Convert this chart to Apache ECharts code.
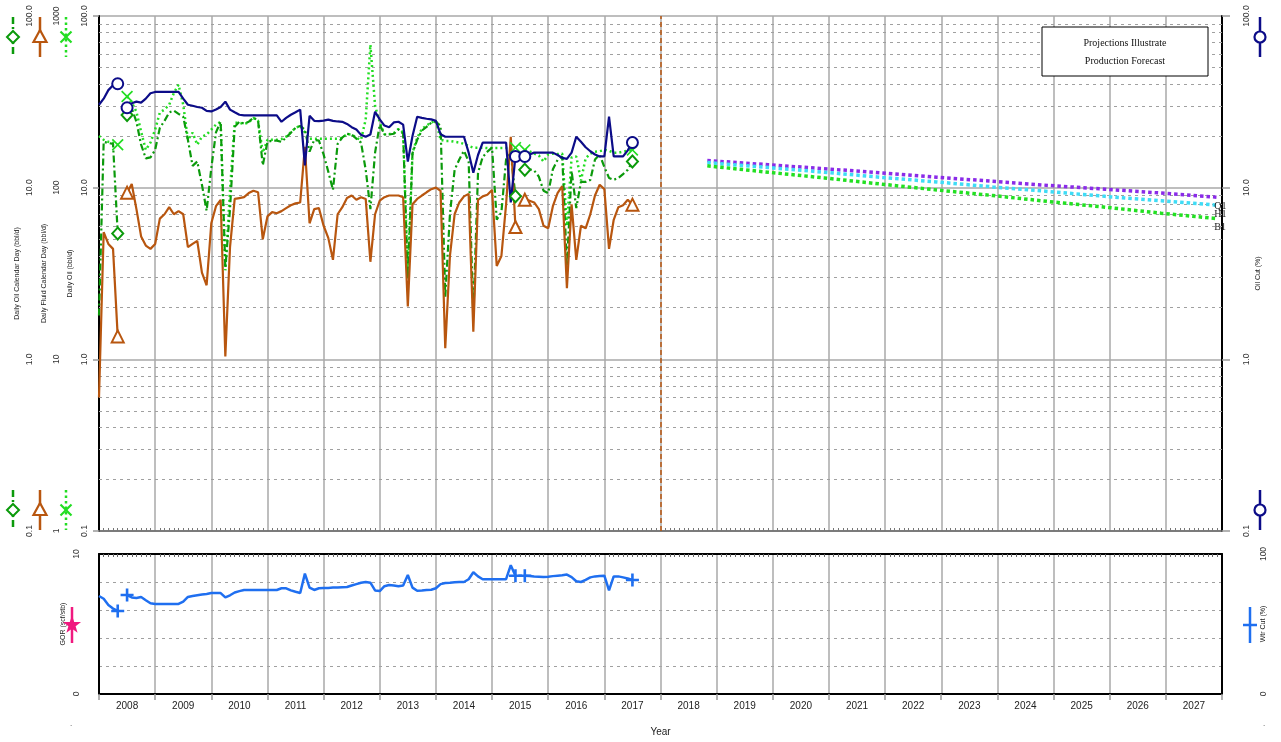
<!DOCTYPE html>
<html>
<head>
<meta charset="utf-8">
<title>Production plot</title>
<script src="https://cdn.jsdelivr.net/npm/echarts@6/dist/echarts.min.js"></script>
<style>
  html, body { margin: 0; padding: 0; background: #fff; }
  #chart { width: 1281px; height: 742px; }
</style>
</head>
<body>
<div id="chart"></div>
<script>
// monthly history, Jan 2008 .. Jul 2017
const months = [
  '2008-01','2008-02','2008-03','2008-04','2008-05','2008-06','2008-07','2008-08','2008-09','2008-10','2008-11','2008-12',
  '2009-01','2009-02','2009-03','2009-04','2009-05','2009-06','2009-07','2009-08','2009-09','2009-10','2009-11','2009-12',
  '2010-01','2010-02','2010-03','2010-04','2010-05','2010-06','2010-07','2010-08','2010-09','2010-10','2010-11','2010-12',
  '2011-01','2011-02','2011-03','2011-04','2011-05','2011-06','2011-07','2011-08','2011-09','2011-10','2011-11','2011-12',
  '2012-01','2012-02','2012-03','2012-04','2012-05','2012-06','2012-07','2012-08','2012-09','2012-10','2012-11','2012-12',
  '2013-01','2013-02','2013-03','2013-04','2013-05','2013-06','2013-07','2013-08','2013-09','2013-10','2013-11','2013-12',
  '2014-01','2014-02','2014-03','2014-04','2014-05','2014-06','2014-07','2014-08','2014-09','2014-10','2014-11','2014-12',
  '2015-01','2015-02','2015-03','2015-04','2015-05','2015-06','2015-07','2015-08','2015-09','2015-10','2015-11','2015-12',
  '2016-01','2016-02','2016-03','2016-04','2016-05','2016-06','2016-07','2016-08','2016-09','2016-10','2016-11','2016-12',
  '2017-01','2017-02','2017-03','2017-04','2017-05','2017-06','2017-07'
];

// Oil Cut (%)
const oilCut = [
  30.4, 33, 37, 39.5, 40.3, null, 29.2, 31, 31.7, 31.3, 33, 35.5,
  36.1, 36.1, 36.1, 36.1, 36.1, 36.1, 33, 30.4, 30, 29.5, 29.2, 28,
  27.8, 28.5, 29.5, 31.7, 28.5, 27.5, 26.6, 26.4, 26.4, 26.4, 26.4, 26.4,
  26.4, 26.4, 26.4, 24.2, 25.5, 26.6, 27.5, 28.5, 13.5, 26.2, 24.5, 24.4,
  24.6, 24.9, 24.5, 24.3, 24.2, 23.5, 22.5, 21.8, 20.3, 19.8, 20.4, 27.7,
  25, 23, 22.5, 24, 24.2, 23.3, 14.2, 20, 25.9, 25.5, 25.2, 25,
  24.5, 20.5, 19.8, 19.8, 19.8, 19.8, 19.8, 16, 12.2, 15.5, 18.3, 18.3,
  18.3, 18.3, 18.3, 18.3, 8.2, 15.2, null, 15.2, 15.6, 16, 16, 16,
  16, 16, 15.5, 14.9, 14.7, 16, 19.8, 18.5, 17.2, 16.3, 15.6, 15.2,
  15.2, 25.9, 15.2, 15.2, 15.2, 16.5, 18.3
];

// Daily Fluid Calendar Day (bbl/d)
const fluidCal = [
  6, 55, 47, 44, 13.6, null, 93.5, 105, 75, 52, 46, 44,
  47, 66, 70, 77, 70, 73, 70, 45, 47, 49, 32, 27,
  62, 78, 85, 10.4, 45, 86, 87, 88, 93, 96, 94, 50,
  68, 72, 71, 73, 76, 79, 81, 82, 173, 62, 75, 76,
  60, 51, 38, 70, 77, 87, 90, 85, 88, 86, 37, 70,
  84, 88, 90, 90, 90, 88, 20.3, 80, 86, 90, 94, 98,
  100, 96, 11.6, 40, 70, 82, 89, 92, 14.5, 85, 89, 91,
  97, 35, 40, 80, 198, 59, null, 85, 84, 82, 75, 60,
  58, 78, 93, 102, 26, 80, 38, 60, 58, 70, 90, 104,
  98, 44, 65, 77, 79, 85, 79.6
];

// Daily Oil Calendar Day (bbl/d)
const oilCal = [
  1.8, 18.5, 18.2, 18, 5.4, null, 26.5, 29, 24.2, 17.8, 14.8, 15,
  16.6, 22.3, 24.5, 27.4, 28.1, 26.9, 25.9, 19, 13.4, 14.2, 10.4, 7.35,
  13, 21, 24.2, 3.4, 7.5, 22.6, 24.2, 23.6, 24.2, 25.6, 24.5, 13.5,
  18.5, 18.8, 18.8, 18.5, 19.6, 20.9, 22.3, 22.9, 21.8, 16.2, 19, 18.8,
  15.6, 12.4, 9.7, 18, 19.6, 20.6, 20.4, 19.3, 18.3, 12.7, 7.5, 16,
  23.3, 20.4, 20.4, 20.6, 21.8, 20.6, 2.9, 15.9, 19, 21.5, 22.6, 23.9,
  24.2, 22.9, 2.3, 7, 12.7, 14.6, 16.4, 14.2, 1.8, 12.2, 15.1, 16.2,
  17.1, 6.5, 7.2, 14.6, 16, 8.9, null, 12.7, 12.8, 12.6, 11.6, 9.6,
  9.3, 12.8, 14.5, 15.2, 3.5, 12.5, 7.6, 10.8, 10.8, 11.1, 14.6, 15.6,
  13.2, 11.4, 11.1, 11.4, 12, 12.7, 14.2
];

// Daily Oil (bbl/d)
const oilDaily = [
  20, 19, 18.5, 18.2, 17.8, null, 34, 31.3, 27.7, 21.2, 16.6, 18.3,
  21.8, 27.4, 28.5, 30.4, 35.6, 39.8, 30.4, 19, 20.9, 17.8, 19.8, 20.4,
  21.8, 23.3, 24.2, 3.3, 9.7, 23.9, 23.9, 23.5, 24, 25.5, 24.5, 16,
  19, 19, 19, 19.2, 19.8, 21, 22.3, 22.9, 21, 19.3, 19.3, 19.3,
  19.3, 19.3, 19.3, 19.3, 19.5, 20.5, 20.4, 19.5, 19, 25, 68, 30,
  24, 20.5, 20.5, 20.8, 22, 21, 3.1, 16, 19.5, 22, 23, 24,
  24.5, 19, 18.7, 18.7, 18.5, 18.3, 18, 17.5, 17.1, 17.1, 17.1, 17,
  17, 17, 17, 17, 17, 17.1, null, 16.6, 16.3, 15.8, 15.4, 14.2,
  15.6, 15.8, 15.7, 15.8, 6, 15, 15.2, 11, 14.8, 15.8, 16.2, 16.3,
  16.6, 16.4, 16, 16, 16.2, 16.4, 16.6
];

// Wtr Cut (%)
const waterCut = [
  70, 68, 63.5, 61, 59.3, null, 70.7, 69, 68.6, 69.3, 67, 64.8,
  64.3, 64.3, 64.3, 64.3, 64.3, 64.3, 66, 69.3, 70, 70.5, 71, 71.5,
  72.1, 72.1, 72.1, 69, 70.5, 72.5, 73.5, 74.3, 74.3, 74.3, 74.3, 74.3,
  74.3, 74.3, 74.3, 75.5, 75.5, 74, 73, 72.1, 86, 76, 74.3, 75.5,
  75.7, 75.8, 76, 76.1, 76.3, 76.4, 77.5, 78.5, 79.5, 80, 79.5, 74,
  73.5, 77, 77.8, 77.5, 77, 77.5, 85, 76, 73.8, 74, 74.3, 74.5,
  75.5, 78.5, 79.3, 79.5, 79.8, 80, 80, 82, 87, 84, 82, 82,
  82, 82, 82, 82, 92, 84.5, null, 84.5, 84.3, 84, 83.8, 83.6,
  83.7, 84.2, 84.5, 84.8, 85.3, 83.5, 80.5, 80, 81.5, 83.3, 84, 84.3,
  84.5, 74, 84, 84, 83.3, 82.5, 81.4
];

// months where the segment markers sit
const markerIdx = [4, 6, 89, 91, 114];

// forecast cases
const forecastMonths = ['2018-11','2019-12','2020-12','2021-12','2022-12','2023-12','2024-12','2025-12','2026-12','2027-12'];
const forecastQ1 = [14.4, 13.6, 12.9, 12.2, 11.5, 10.9, 10.3, 9.8, 9.3, 8.8];
const forecastH1 = [14.0, 13.1, 12.3, 11.5, 10.8, 10.1, 9.5, 8.9, 8.4, 7.9];
const forecastB1 = [13.4, 12.3, 11.4, 10.5, 9.7, 9.0, 8.3, 7.7, 7.1, 6.6];

const years = ['2008','2009','2010','2011','2012','2013','2014','2015','2016','2017',
               '2018','2019','2020','2021','2022','2023','2024','2025','2026','2027'];
const oilTicks = ['0.1', '1.0', '10.0', '100.0'];
const fluidTicks = ['1', '10', '100', '1000'];
const gorTicks = ['0', '', '', '', '', '10'];
const wcutTicks = ['0', '', '', '', '', '100'];
const minorLogLines = [0.2, 0.3, 0.4, 0.5, 0.6, 0.7, 0.8, 0.9,
                       2, 3, 4, 5, 6, 7, 8, 9,
                       20, 30, 40, 50, 60, 70, 80, 90];

const FONT = 'Liberation Sans, Arial, sans-serif';
const SERIF = 'Liberation Serif, Times New Roman, serif';
const GRID_GRAY = '#a8a8a8';
const DASH_GRAY = '#a0a0a0';

const C_NAVY = '#0c0c88';
const C_GREEN = '#0b9a0b';
const C_LIME = '#22dd22';
const C_BROWN = '#b8560f';
const C_BLUE = '#1f6ff0';
const C_PINK = '#f0197f';

const X_PATH = 'path://M1,0L5,4L9,0L10,1L6,5L10,9L9,10L5,6L1,10L0,9L4,5L0,1Z';
const PLUS_PATH = 'path://M4,0H6V4H10V6H6V10H4V6H0V4H4Z';

function toT(s) { return +s.slice(0, 4) + (+s.slice(5, 7) - 1) / 12; }

function buildData(vals, mark) {
  return months.map(function (m, i) {
    const v = vals[i];
    const item = [toT(m), v == null ? '-' : v];
    if (mark && v != null && markerIdx.indexOf(i) >= 0) {
      return Object.assign({ value: item }, mark);
    }
    return item;
  });
}

function buildForecast(vals) {
  return forecastMonths.map(function (m, i) { return [toT(m), vals[i]]; });
}

function logAxis(opt) {
  return Object.assign({
    gridIndex: 0, type: 'log', logBase: 10,
    nameLocation: 'middle', nameRotate: 90, nameMoveOverlap: false,
    nameTextStyle: { fontSize: 7, color: '#222', fontFamily: FONT },
    axisLine: { show: false, onZero: false },
    axisTick: { show: false },
    splitLine: { show: false },
    axisLabel: { rotate: 90, fontSize: 8.5, color: '#333', fontFamily: FONT, margin: 10 }
  }, opt);
}

// ---- legend icons (drawn as plain shapes) ----
function vline(x, y1, y2, color, dash) {
  return { type: 'line', silent: true, z: 50,
    shape: { x1: x, y1: y1, x2: x, y2: y2 },
    style: { stroke: color, lineWidth: 2.5, lineDash: dash || null } };
}
function iconDiamond(x, cy) {
  return [vline(x, cy - 20, cy + 20, C_GREEN, [7, 3, 2, 3]),
    { type: 'polygon', silent: true, z: 51, shape: { points: [[x, cy - 6], [x + 6, cy], [x, cy + 6], [x - 6, cy]] },
      style: { fill: '#fff', stroke: C_GREEN, lineWidth: 2 } }];
}
function iconTriangle(x, cy) {
  return [vline(x, cy - 20, cy + 20, C_BROWN),
    { type: 'polygon', silent: true, z: 51, shape: { points: [[x, cy - 7], [x + 6.5, cy + 5], [x - 6.5, cy + 5]] },
      style: { fill: '#fff', stroke: C_BROWN, lineWidth: 2.2 } }];
}
function iconCross(x, cy) {
  return [vline(x, cy - 20, cy + 20, C_LIME, [2.5, 3]),
    { type: 'line', silent: true, z: 51, shape: { x1: x - 5.5, y1: cy - 5.5, x2: x + 5.5, y2: cy + 5.5 }, style: { stroke: C_LIME, lineWidth: 2.2 } },
    { type: 'line', silent: true, z: 51, shape: { x1: x - 5.5, y1: cy + 5.5, x2: x + 5.5, y2: cy - 5.5 }, style: { stroke: C_LIME, lineWidth: 2.2 } }];
}
function iconCircle(x, cy) {
  return [vline(x, cy - 20, cy + 20, C_NAVY),
    { type: 'circle', silent: true, z: 51, shape: { cx: x, cy: cy, r: 5.5 }, style: { fill: '#fff', stroke: C_NAVY, lineWidth: 2.2 } }];
}
function iconPlus(x, cy) {
  return [vline(x, cy - 18, cy + 18, C_BLUE),
    { type: 'line', silent: true, z: 51, shape: { x1: x - 7, y1: cy, x2: x + 7, y2: cy }, style: { stroke: C_BLUE, lineWidth: 2.5 } }];
}
function iconStar(x, cy) {
  const pts = [];
  for (let k = 0; k < 10; k++) {
    const a = -Math.PI / 2 + k * Math.PI / 5;
    const rad = k % 2 ? 3.8 : 9.5;
    pts.push([x + rad * Math.cos(a), cy + rad * Math.sin(a)]);
  }
  return [vline(x, cy - 18, cy + 18, C_PINK),
    { type: 'polygon', silent: true, z: 51, shape: { points: pts }, style: { fill: C_PINK } }];
}

const ICON_TOP = 37, ICON_BOT = 510;
const graphics = [].concat(
  iconDiamond(13, ICON_TOP), iconTriangle(40, ICON_TOP), iconCross(66, ICON_TOP),
  iconDiamond(13, ICON_BOT), iconTriangle(40, ICON_BOT), iconCross(66, ICON_BOT),
  iconCircle(1260, ICON_TOP), iconCircle(1260, ICON_BOT),
  iconStar(72, 625), iconPlus(1250, 625),
  [
    { type: 'rect', silent: true, z: 60, shape: { x: 1042, y: 27, width: 166, height: 49 },
      style: { fill: '#fff', stroke: '#000', lineWidth: 1 } },
    { type: 'text', silent: true, z: 61, x: 1125, y: 43,
      style: { text: 'Projections Illustrate', fontSize: 10, fontFamily: SERIF, fill: '#111', align: 'center', verticalAlign: 'middle' } },
    { type: 'text', silent: true, z: 61, x: 1125, y: 61,
      style: { text: 'Production Forecast', fontSize: 10, fontFamily: SERIF, fill: '#111', align: 'center', verticalAlign: 'middle' } },
    { type: 'text', silent: true, x: 70, y: 720, style: { text: '.', fontSize: 8, fill: '#333' } },
    { type: 'text', silent: true, x: 1263, y: 720, style: { text: '.', fontSize: 8, fill: '#333' } }
  ]
);

const forecastLabel = function (txt) {
  return { show: true, formatter: txt, distance: 0, offset: [-3, 9],
    fontFamily: SERIF, fontSize: 10, color: '#222' };
};

const option = {
  animation: false,
  backgroundColor: '#fff',
  textStyle: { fontFamily: FONT },
  grid: [
    { left: 99, top: 16, width: 1123, height: 515, outerBoundsMode: 'none' },
    { left: 99, top: 554, width: 1123, height: 140, outerBoundsMode: 'none' }
  ],
  xAxis: [
    { gridIndex: 0, type: 'value', min: 2008, max: 2028, interval: 1, position: 'bottom',
      axisLine: { onZero: false, lineStyle: { color: '#666', width: 1.5 } },
      axisTick: { show: false, inside: true },
      minorTick: { show: true, splitNumber: 12, length: 3, lineStyle: { color: '#777' } },
      axisLabel: { show: false },
      splitLine: { show: true, lineStyle: { color: GRID_GRAY, width: 1.5 } } },
    { gridIndex: 1, type: 'value', min: 2008, max: 2028, interval: 1, position: 'top',
      axisLine: { onZero: false, lineStyle: { color: '#000', width: 2 } },
      axisTick: { show: false, inside: true },
      minorTick: { show: true, splitNumber: 12, length: 3, lineStyle: { color: '#666' } },
      axisLabel: { show: false },
      splitLine: { show: true, lineStyle: { color: GRID_GRAY, width: 1.5 } } },
    { gridIndex: 1, type: 'category', data: years, position: 'bottom', boundaryGap: true,
      axisLine: { onZero: false, lineStyle: { color: '#000', width: 2 } },
      axisTick: { show: true, length: 6, lineStyle: { color: '#999', width: 1.5 } },
      axisLabel: { fontSize: 10, margin: 7, color: '#222', fontFamily: FONT },
      splitLine: { show: false },
      name: 'Year', nameLocation: 'middle', nameGap: 33,
      nameTextStyle: { fontSize: 10, color: '#222', fontFamily: FONT } }
  ],
  yAxis: [
    // 0: Daily Oil, innermost, carries the decade grid
    logAxis({ min: 0.1, max: 100, position: 'left', offset: 0, name: 'Daily Oil (bbl/d)', nameGap: 25,
      axisLine: { show: true, onZero: false, lineStyle: { color: '#000', width: 2 } },
      axisTick: { show: true, length: 6, lineStyle: { color: '#999', width: 1.5 } },
      splitLine: { show: true, lineStyle: { color: GRID_GRAY, width: 1.5 } },
      axisLabel: { rotate: 90, fontSize: 8.5, color: '#333', fontFamily: FONT, margin: 10,
        formatter: function (v, i) { return oilTicks[i]; } } }),
    // 1: Daily Fluid Calendar Day
    logAxis({ min: 1, max: 1000, position: 'left', offset: 28, name: 'Daily Fluid Calendar Day (bbl/d)', nameGap: 23,
      axisLabel: { rotate: 90, fontSize: 8.5, color: '#333', fontFamily: FONT, margin: 10,
        formatter: function (v, i) { return fluidTicks[i]; } } }),
    // 2: Daily Oil Calendar Day
    logAxis({ min: 0.1, max: 100, position: 'left', offset: 55, name: 'Daily Oil Calendar Day (bbl/d)', nameGap: 23,
      axisLabel: { rotate: 90, fontSize: 8.5, color: '#333', fontFamily: FONT, margin: 10,
        formatter: function (v, i) { return oilTicks[i]; } } }),
    // 3: Oil Cut (right)
    logAxis({ min: 0.1, max: 100, position: 'right', offset: 0, name: 'Oil Cut (%)', nameGap: 33,
      axisLine: { show: true, onZero: false, lineStyle: { color: '#000', width: 2 } },
      axisTick: { show: true, length: 8, lineStyle: { color: '#999', width: 1.5 } },
      axisLabel: { rotate: 90, fontSize: 8.5, color: '#333', fontFamily: FONT, margin: 20,
        formatter: function (v, i) { return oilTicks[i]; } } }),
    // 4: GOR (bottom panel, left)
    { gridIndex: 1, type: 'value', min: 0, max: 10, interval: 2, position: 'left',
      name: 'GOR (scf/stb)', nameLocation: 'middle', nameRotate: 90, nameGap: 32, nameMoveOverlap: false,
      nameTextStyle: { fontSize: 7, color: '#222', fontFamily: FONT },
      axisLine: { show: true, onZero: false, lineStyle: { color: '#000', width: 2 } },
      axisTick: { show: false },
      splitLine: { show: true, lineStyle: { color: DASH_GRAY, type: [3, 4], width: 1 } },
      axisLabel: { rotate: 90, fontSize: 8.5, color: '#333', fontFamily: FONT, margin: 18,
        formatter: function (v, i) { return gorTicks[i]; } } },
    // 5: Wtr Cut (bottom panel, right)
    { gridIndex: 1, type: 'value', min: 0, max: 100, interval: 20, position: 'right',
      name: 'Wtr Cut (%)', nameLocation: 'middle', nameRotate: 90, nameGap: 38, nameMoveOverlap: false,
      nameTextStyle: { fontSize: 7, color: '#222', fontFamily: FONT },
      axisLine: { show: true, onZero: false, lineStyle: { color: '#000', width: 2 } },
      axisTick: { show: false },
      splitLine: { show: false },
      axisLabel: { rotate: 90, fontSize: 8.5, color: '#333', fontFamily: FONT, margin: 37,
        formatter: function (v, i) { return wcutTicks[i]; } } }
  ],
  series: [
    { name: 'Daily Oil', type: 'line', xAxisIndex: 0, yAxisIndex: 0,
      data: buildData(oilDaily, { symbol: X_PATH, symbolSize: 12, itemStyle: { color: C_LIME, borderWidth: 0 } }),
      symbol: 'none', showSymbol: true, connectNulls: false,
      lineStyle: { color: C_LIME, width: 2.5, type: [2, 3] }, itemStyle: { color: C_LIME },
      markLine: {
        silent: true, symbol: ['none', 'none'], z: 1, label: { show: false },
        lineStyle: { color: DASH_GRAY, type: [3, 4], width: 1 },
        data: minorLogLines.map(function (v) { return { yAxis: v }; }).concat([
          { xAxis: 2018, lineStyle: { color: C_BROWN, type: [5, 3], width: 1.5 } }
        ])
      } },
    { name: 'Daily Oil Calendar Day', type: 'line', xAxisIndex: 0, yAxisIndex: 2,
      data: buildData(oilCal, { symbol: 'emptyDiamond', symbolSize: [11, 12], itemStyle: { borderWidth: 2 } }),
      symbol: 'none', showSymbol: true, connectNulls: false,
      lineStyle: { color: C_GREEN, width: 2.2, type: [7, 3, 2, 3] }, itemStyle: { color: C_GREEN } },
    { name: 'Daily Fluid Calendar Day', type: 'line', xAxisIndex: 0, yAxisIndex: 1,
      data: buildData(fluidCal, { symbol: 'emptyTriangle', symbolSize: 12, itemStyle: { borderWidth: 2 } }),
      symbol: 'none', showSymbol: true, connectNulls: false,
      lineStyle: { color: C_BROWN, width: 2.2 }, itemStyle: { color: C_BROWN } },
    { name: 'Oil Cut', type: 'line', xAxisIndex: 0, yAxisIndex: 3,
      data: buildData(oilCut, { symbol: 'emptyCircle', symbolSize: 11, itemStyle: { borderWidth: 2 } }),
      symbol: 'none', showSymbol: true, connectNulls: false,
      lineStyle: { color: C_NAVY, width: 2.2 }, itemStyle: { color: C_NAVY } },
    { name: 'Q1', type: 'line', xAxisIndex: 0, yAxisIndex: 0, data: buildForecast(forecastQ1),
      symbol: 'none', lineStyle: { color: '#8a2be8', width: 3.5, type: [3.5, 3] }, endLabel: forecastLabel('Q1') },
    { name: 'H1', type: 'line', xAxisIndex: 0, yAxisIndex: 0, data: buildForecast(forecastH1),
      symbol: 'none', lineStyle: { color: '#3fdcf6', width: 3.5, type: [3.5, 3] }, endLabel: forecastLabel('H1') },
    { name: 'B1', type: 'line', xAxisIndex: 0, yAxisIndex: 0, data: buildForecast(forecastB1),
      symbol: 'none', lineStyle: { color: '#22e022', width: 3.5, type: [3.5, 3] }, endLabel: forecastLabel('B1') },
    { name: 'Wtr Cut', type: 'line', xAxisIndex: 1, yAxisIndex: 5,
      data: buildData(waterCut, { symbol: PLUS_PATH, symbolSize: 13, itemStyle: { color: C_BLUE, borderWidth: 0 } }),
      symbol: 'none', showSymbol: true, connectNulls: false,
      lineStyle: { color: C_BLUE, width: 2.5 }, itemStyle: { color: C_BLUE } }
  ],
  graphic: { elements: graphics }
};

const chart = echarts.init(document.getElementById('chart'));
chart.setOption(option);
window.addEventListener('resize', function () { chart.resize(); });
</script>
</body>
</html>
